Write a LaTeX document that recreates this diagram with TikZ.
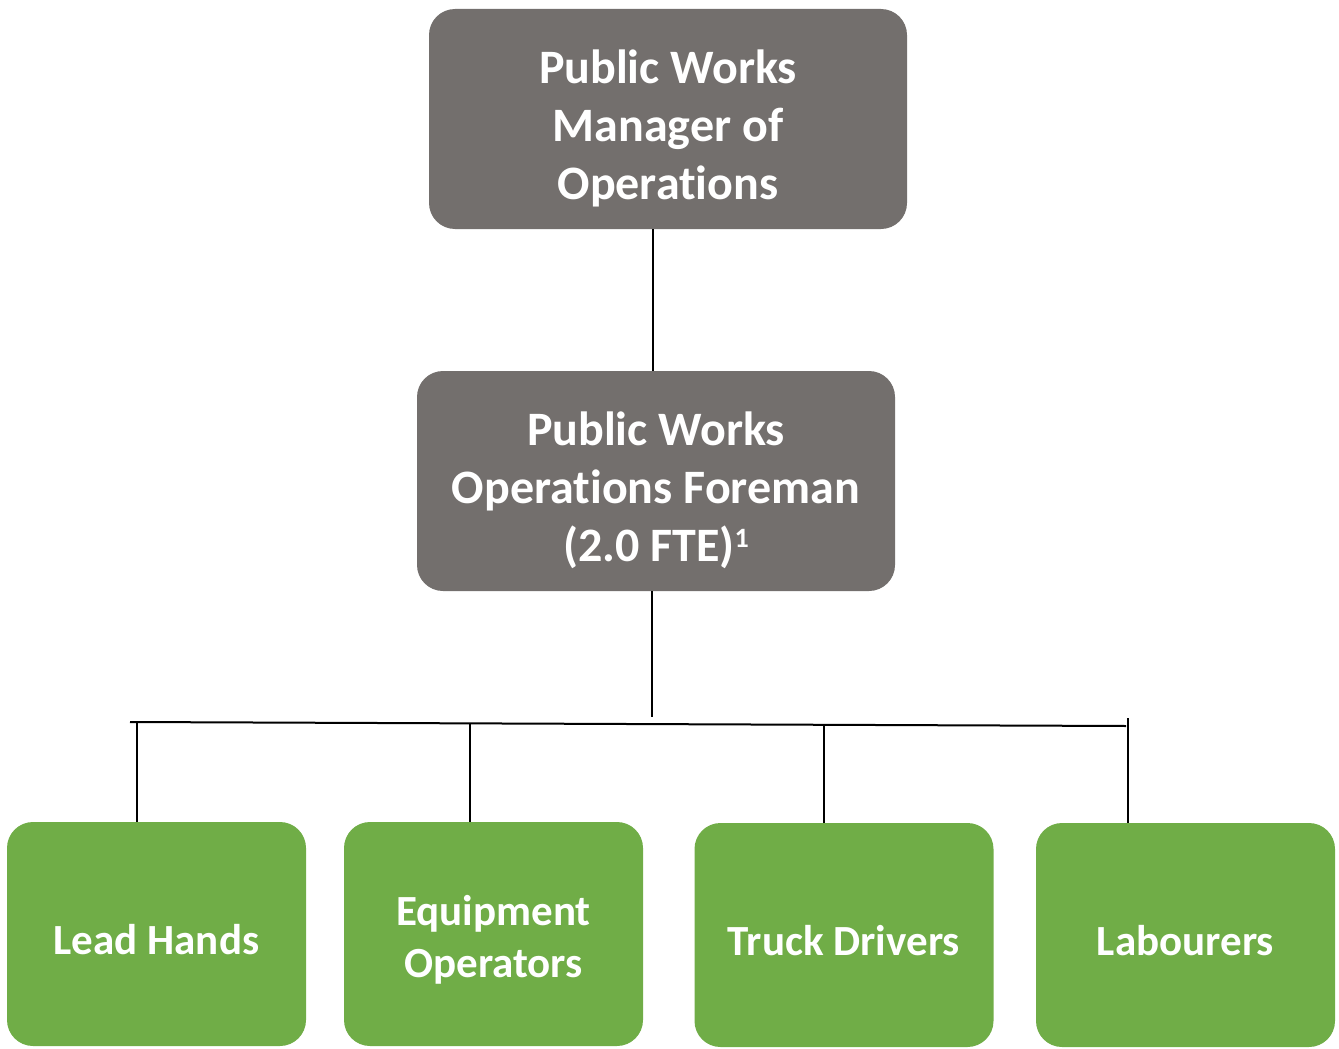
\documentclass[tikz,border=0pt]{standalone}
\usepackage{fontspec}
\setmainfont[Ligatures=NoCommon]{Carlito}
\definecolor{boxgray}{HTML}{736F6D}
\definecolor{boxgreen}{HTML}{70AD47}
\begin{document}
\begin{tikzpicture}[x=1pt,y=-1pt,
  box/.style={rounded corners=26pt, inner sep=0pt},
  graybox/.style={box, fill=boxgray, minimum width=478pt, minimum height=220pt},
  greenbox/.style={box, fill=boxgreen, minimum width=299pt, minimum height=224pt},
  graytext/.style={align=center, text=white, inner sep=0pt, yshift=-9pt,
    font=\bfseries\fontsize{48}{58}\selectfont},
  greentext/.style={align=center, text=white, inner sep=0pt, yshift=-6pt,
    font=\bfseries\fontsize{43}{52}\selectfont},
  link/.style={line width=2pt, black}]
\useasboundingbox (0,0) rectangle (1339,1049);
\node[graybox, label={[graytext]center:{Public Works\\Manager of\\Operations}}] (mgr) at (668,119) {};
\node[graybox, label={[graytext]center:{Public Works\\Operations Foreman\\(2.0 FTE)\raisebox{14pt}{\fontsize{28}{28}\selectfont 1}}}] (fore) at (656,481) {};
\node[greenbox, label={[greentext]center:{Lead Hands}}] (lead) at (156.5,934) {};
\node[greenbox, label={[greentext]center:{Equipment\\Operators}}] (equip) at (493.5,934) {};
\node[greenbox, label={[greentext]center:{Truck Drivers}}] (truck) at (844,935) {};
\node[greenbox, label={[greentext]center:{Labourers}}] (lab) at (1185.5,935) {};
\coordinate (stemEnd) at (652,717);
\coordinate (barL) at (130,722);
\coordinate (barR) at (1126,726);
\coordinate (labTop) at (1128,718);
\draw[link] (mgr.south -| 653,0) -- (fore.north -| 653,0);
\draw[link] (fore.south -| stemEnd) -- (stemEnd);
\draw[link] (barL) -- (barR);
\draw[link] (137,722) -- (lead.north -| 137,0);
\draw[link] (470,723) -- (equip.north -| 470,0);
\draw[link] (824,724.5) -- (truck.north -| 824,0);
\draw[link] (labTop) -- (lab.north -| labTop);
\end{tikzpicture}
\end{document}
